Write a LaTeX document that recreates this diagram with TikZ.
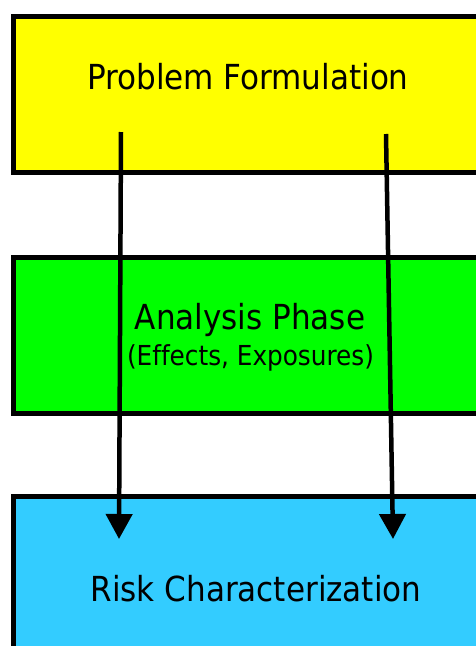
\documentclass[tikz,border=0pt]{standalone}
\usepackage{fontspec}
\setmainfont{DejaVu Sans Condensed}[Ligatures=NoCommon]
\usetikzlibrary{arrows.meta}
\definecolor{pfyellow}{RGB}{255,255,0}
\definecolor{apgreen}{RGB}{0,255,0}
\definecolor{rcblue}{RGB}{51,204,255}
\begin{document}
\begin{tikzpicture}[x=1pt,y=-1pt,
  box/.style={draw=black, line width=5pt, rectangle, inner sep=0pt, minimum width=474pt, minimum height=156pt},
  big/.style={inner sep=0pt, anchor=base, font=\fontsize{34.5}{38}\selectfont},
  small/.style={inner sep=0pt, anchor=base, font=\fontsize{27.5}{31}\selectfont},
  flow/.style={line width=4.5pt, -{Triangle[width=26pt,length=25pt]}}]
\useasboundingbox (0,0) rectangle (476,646);
\clip (0,0) rectangle (476,646);
\node[box, fill=pfyellow] (pf) at (250.5,94.5) {};
\node[box, fill=apgreen] (ap) at (250.5,335.5) {};
\node[box, fill=rcblue, minimum height=200pt] (rc) at (250.5,596.5) {};
\node[big] (pft) at (248,89) {Problem Formulation};
\node[big] (apt) at (250,329) {Analysis Phase};
\node[small] (aps) at (250.5,365) {(Effects, Exposures)};
\node[big] (rct) at (256,601) {Risk Characterization};
\coordinate (s1) at (121,132);
\coordinate (e1) at (119,539);
\coordinate (s2) at (386,134);
\coordinate (e2) at (393,539);
\draw[flow] (s1) -- (e1);
\draw[flow] (s2) -- (e2);
\end{tikzpicture}
\end{document}
